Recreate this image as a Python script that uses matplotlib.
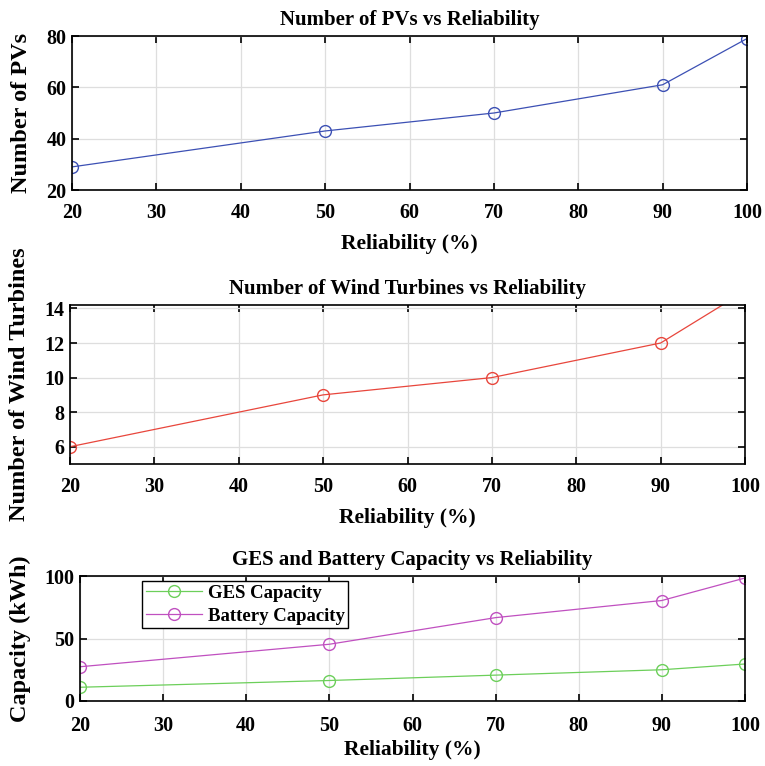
import numpy as np
import matplotlib.pyplot as plt

reliability = [20, 50, 70, 90, 100]
num_pvs = [29, 43, 50, 61, 79]
num_wind = [6, 9, 10, 12, 15]
ges_capacity = [11, 16.4, 20.7, 25, 29.6]
battery_capacity = [27.4, 45.4, 66.7, 80.4, 98.4]

plt.rcParams['font.family'] = ['Liberation Serif', 'DejaVu Serif']
plt.rcParams['font.weight'] = 'bold'

fig = plt.figure(figsize=(7.65, 7.66), dpi=100)
W, H = 765, 766

def make_ax(left, right, top, bottom):
    return fig.add_axes([left / W, 1 - bottom / H, (right - left) / W, (bottom - top) / H])

def style(ax, title, ylabel, xpad, xlpad):
    ax.set_title(title, fontsize=15, fontweight='bold', pad=8)
    ax.set_xlabel('Reliability (%)', fontsize=15.5, fontweight='bold', labelpad=xlpad)
    ax.set_ylabel(ylabel, fontsize=17.5, fontweight='bold', labelpad=10)
    ax.set_xlim(20, 100)
    ax.set_xticks(np.arange(20, 101, 10))
    ax.grid(True, color='#dedede', linewidth=0.9)
    ax.set_axisbelow(True)
    ax.tick_params(direction='in', top=True, right=True, labelsize=14.5, width=1.2, length=5)
    ax.tick_params(axis='x', pad=xpad)
    ax.tick_params(axis='y', pad=4)
    for t in ax.get_xticklabels() + ax.get_yticklabels():
        t.set_fontweight('bold')
    for s in ax.spines.values():
        s.set_linewidth(1.2)

ax1 = make_ax(72, 747, 36, 190)
ax1.plot(reliability, num_pvs, color='#3c50b4', marker='o', markersize=8.5,
         markerfacecolor='none', linewidth=0.9)
ax1.set_ylim(20, 80)
ax1.set_yticks([20, 40, 60, 80])
style(ax1, 'Number of PVs vs Reliability', 'Number of PVs', 9.5, 8)

ax2 = make_ax(70, 745, 305, 464)
ax2.plot(reliability, num_wind, color='#e8463c', marker='o', markersize=8.5,
         markerfacecolor='none', linewidth=0.9)
ax2.set_ylim(5, 14.2)
ax2.set_yticks([6, 8, 10, 12, 14])
style(ax2, 'Number of Wind Turbines vs Reliability', 'Number of Wind Turbines', 9.5, 8)

ax3 = make_ax(80, 745, 576, 701)
ax3.plot(reliability, ges_capacity, color='#6ccf5a', marker='o', markersize=8.5,
         markerfacecolor='none', linewidth=0.9, label='GES Capacity')
ax3.plot(reliability, battery_capacity, color='#c050c0', marker='o', markersize=8.5,
         markerfacecolor='none', linewidth=0.9, label='Battery Capacity')
ax3.set_ylim(0, 100)
ax3.set_yticks([0, 50, 100])
style(ax3, 'GES and Battery Capacity vs Reliability', 'Capacity (kWh)', 10.5, 3)
leg = ax3.legend(loc='upper left', bbox_to_anchor=((142 - 80) / 665, 1 - 5 / 125), fontsize=13.5,
                 fancybox=False, framealpha=1, edgecolor='black', borderpad=0.2,
                 handlelength=3.0, handletextpad=0.3, labelspacing=0.3, borderaxespad=0)
leg.get_frame().set_linewidth(1.0)
for t in leg.get_texts():
    t.set_fontweight('bold')

fig.savefig('out.png', dpi=100)
